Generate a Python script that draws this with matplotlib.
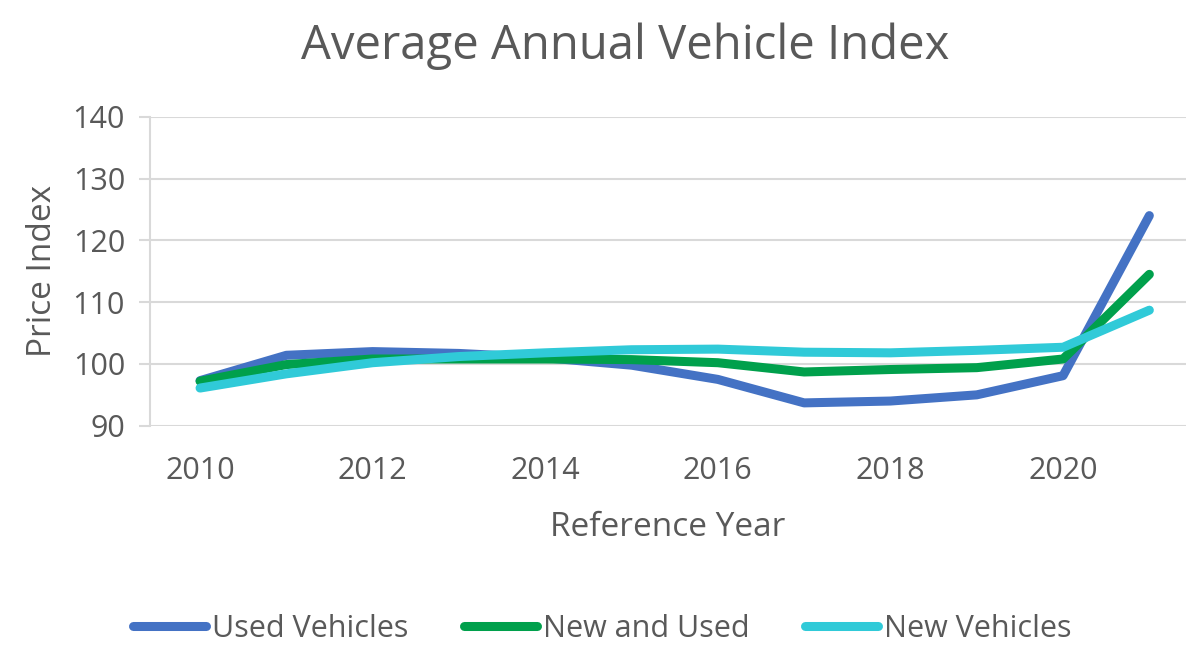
import matplotlib.pyplot as plt
import numpy as np

plt.rcParams['font.family'] = ['Open Sans', 'DejaVu Sans']

years = list(range(2010, 2022))
used = [97.3, 101.4, 102.0, 101.7, 101.0, 99.8, 97.5, 93.7, 94.0, 95.0, 98.1, 124.0]
new_and_used = [97.2, 99.9, 100.8, 100.8, 100.8, 100.7, 100.2, 98.7, 99.1, 99.4, 100.8, 114.5]
new = [96.1, 98.4, 100.2, 101.2, 101.8, 102.3, 102.4, 101.9, 101.8, 102.2, 102.7, 108.7]
series_names = ['Used Vehicles', 'New and Used', 'New Vehicles']
colors = ['#4472C4', '#00A04C', '#30CAD8']

txt = '#595959'
grid = '#D9D9D9'

fig = plt.figure(figsize=(12, 6.52), dpi=100)
ax = fig.add_axes([0.125, 0.347, 0.863, 0.474])

for vals, name, c in zip([used, new_and_used, new], series_names, colors):
    ax.plot(years, vals, color=c, lw=6.5, label=name, solid_capstyle='round',
            solid_joinstyle='round')

ax.set_xlim(2009.42, 2021.42)
ax.set_ylim(90, 140)
ax.set_yticks(np.arange(90, 141, 10))
ax.set_xticks(range(2010, 2021, 2))
ax.yaxis.grid(True, color=grid, lw=1.5)
ax.set_axisbelow(True)
for s in ['top', 'right', 'bottom']:
    ax.spines[s].set_visible(False)
ax.spines['left'].set_color(grid)
ax.spines['left'].set_linewidth(1.5)
ax.tick_params(axis='y', colors=grid, length=8, width=1.5, labelcolor=txt,
               labelsize=22, pad=10)
ax.tick_params(axis='x', length=0, labelcolor=txt, labelsize=22, pad=22)

ax.set_xlabel('Reference Year', color=txt, fontsize=24, labelpad=18)
ax.set_ylabel('Price Index', color=txt, fontsize=24, labelpad=10)
fig.suptitle('Average Annual Vehicle Index', color=txt, fontsize=34, x=0.521, y=0.965)

leg = fig.legend(loc='center', bbox_to_anchor=(0.502, 0.035), ncol=3, frameon=False,
                 fontsize=22, handlelength=2.4, handletextpad=0.2, columnspacing=1.8)
for t in leg.get_texts():
    t.set_color(txt)

fig.savefig('out.png', dpi=100)
